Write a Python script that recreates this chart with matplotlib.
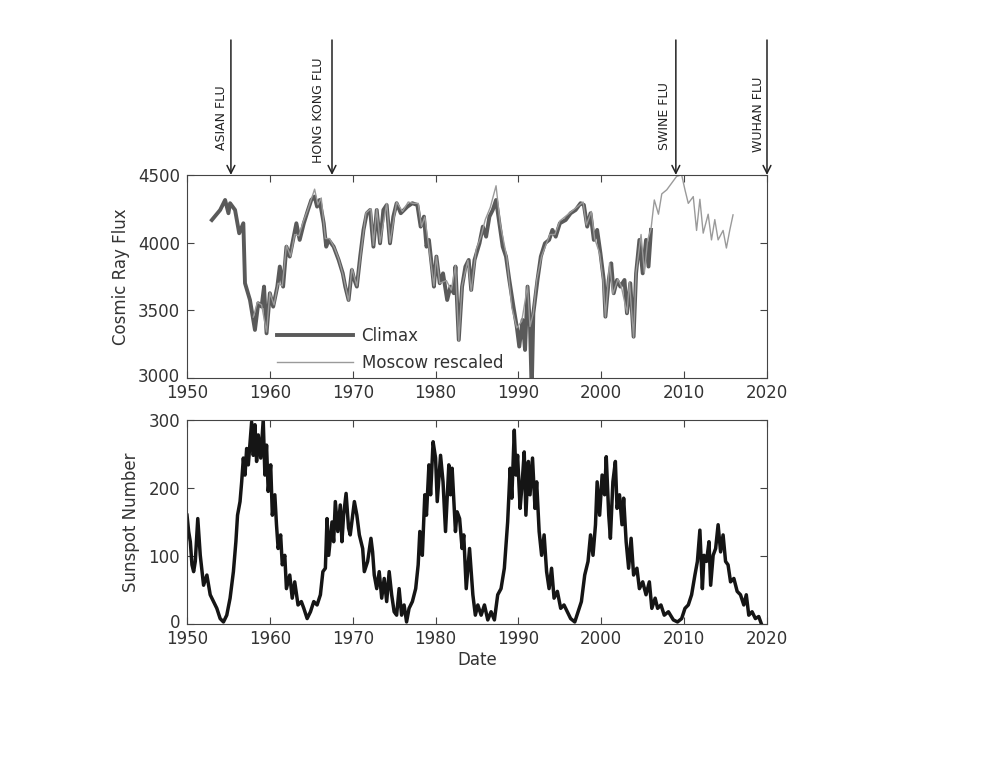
"""
Cosmic ray flux (Climax / Moscow) and sunspot number, with flu pandemics marked.
"""

import matplotlib
matplotlib.use("Agg")
import matplotlib.pyplot as plt
import matplotlib.transforms as mtransforms

matplotlib.rcParams.update({
    'font.family': 'DejaVu Sans',
    'font.size': 12,
    'xtick.direction': 'in',
    'ytick.direction': 'in',
    'xtick.top': True,
    'ytick.right': True,
    'xtick.major.size': 5,
    'ytick.major.size': 5,
    'xtick.major.pad': 4.5,
    'ytick.major.pad': 5,
    'axes.edgecolor': '#444444',
    'xtick.color': '#444444',
    'ytick.color': '#444444',
    'xtick.labelcolor': '#333333',
    'ytick.labelcolor': '#333333',
})

# --- data ------------------------------------------------------------------
climax_years = [
    1953.0, 1954.0, 1954.6, 1955.0, 1955.2, 1955.8, 1956.3, 1956.8, 1957.0, 1957.6,
    1958.0, 1958.2, 1958.6, 1959.0, 1959.3, 1959.6, 1960.0, 1960.4, 1960.9, 1961.2,
    1961.6, 1962.0, 1962.4, 1962.8, 1963.2, 1963.6, 1964.1, 1964.6, 1965.0, 1965.4,
    1965.7, 1966.0, 1966.5, 1966.8, 1967.1, 1967.7, 1968.3, 1968.8, 1969.1, 1969.5,
    1969.9, 1970.2, 1970.5, 1970.9, 1971.3, 1971.7, 1972.1, 1972.5, 1972.9, 1973.3,
    1973.7, 1974.1, 1974.5, 1974.9, 1975.3, 1975.8, 1976.6, 1977.2, 1977.8, 1978.2,
    1978.6, 1978.9, 1979.2, 1979.6, 1979.8, 1980.1, 1980.5, 1980.9, 1981.4, 1981.8,
    1982.2, 1982.4, 1982.8, 1983.2, 1983.6, 1984.0, 1984.3, 1984.7, 1985.3, 1985.7,
    1986.1, 1986.5, 1986.9, 1987.3, 1987.7, 1988.1, 1988.5, 1988.9, 1989.4, 1989.8,
    1990.1, 1990.5, 1990.8, 1991.1, 1991.4, 1991.6, 1991.8, 1992.3, 1992.7, 1993.2,
    1993.7, 1994.1, 1994.5, 1995.0, 1995.7, 1996.3, 1996.9, 1997.5, 1997.9, 1998.3,
    1998.7, 1999.1, 1999.5, 1999.9, 2000.3, 2000.5, 2000.9, 2001.2, 2001.5, 2001.9,
    2002.3, 2002.8, 2003.1, 2003.5, 2003.9, 2004.2, 2004.6, 2005.0, 2005.4, 2005.7,
    2006.0,
]
climax_flux = [
    4167, 4241, 4315, 4217, 4291, 4241, 4069, 4143, 3700, 3576,
    3429, 3355, 3552, 3527, 3675, 3330, 3626, 3527, 3675, 3823,
    3675, 3970, 3897, 4020, 4143, 4020, 4143, 4241, 4315, 4340,
    4266, 4315, 4143, 3970, 4020, 3970, 3872, 3773, 3675, 3576,
    3798, 3724, 3675, 3897, 4094, 4217, 4241, 3970, 4241, 3995,
    4241, 4278, 3995, 4192, 4291, 4217, 4266, 4291, 4278, 4118,
    4192, 3970, 4020, 3798, 3675, 3897, 3700, 3773, 3576, 3675,
    3626, 3823, 3281, 3675, 3823, 3872, 3650, 3872, 3995, 4118,
    4044, 4192, 4241, 4315, 4143, 3970, 3897, 3724, 3527, 3379,
    3232, 3429, 3207, 3675, 3379, 2900, 3478, 3724, 3897, 3995,
    4020, 4094, 4044, 4143, 4167, 4217, 4241, 4291, 4278, 4118,
    4217, 4020, 4094, 3921, 3724, 3453, 3724, 3847, 3626, 3724,
    3675, 3724, 3478, 3700, 3305, 3773, 4020, 3773, 4020, 3823,
    4094,
]

moscow_years = [
    1958.0, 1958.5, 1959.0, 1959.6, 1960.0, 1960.5, 1961.0, 1961.5, 1962.0, 1962.5,
    1963.0, 1963.5, 1964.0, 1964.5, 1965.0, 1965.4, 1965.8, 1966.2, 1966.7, 1967.2,
    1967.8, 1968.3, 1968.8, 1969.5, 1969.9, 1970.5, 1971.0, 1971.6, 1972.2, 1972.5,
    1972.9, 1973.3, 1974.1, 1974.5, 1975.3, 1976.0, 1976.7, 1977.3, 1977.9, 1978.3,
    1978.7, 1979.1, 1979.8, 1980.1, 1980.5, 1981.3, 1981.9, 1982.4, 1982.8, 1983.2,
    1983.9, 1984.3, 1984.9, 1985.5, 1986.0, 1986.6, 1987.3, 1987.8, 1988.6, 1989.2,
    1989.8, 1990.4, 1991.1, 1991.4, 1991.8, 1992.2, 1992.8, 1993.8, 1994.4, 1995.0,
    1996.2, 1997.0, 1997.8, 1998.2, 1998.8, 1999.2, 1999.8, 2000.2, 2000.5, 2001.0,
    2001.4, 2002.0, 2002.4, 2003.1, 2003.4, 2003.9, 2004.2, 2004.8, 2005.2, 2005.6,
    2006.0, 2006.4, 2006.9, 2007.3, 2007.9, 2008.5, 2009.1, 2009.7, 2010.1, 2010.5,
    2011.1, 2011.5, 2011.9, 2012.3, 2012.9, 2013.3, 2013.7, 2014.1, 2014.7, 2015.1,
    2015.5, 2015.9,
]
moscow_flux = [
    3450, 3560, 3540, 3340, 3630, 3540, 3700, 3680, 3980, 3900,
    4060, 4050, 4150, 4230, 4320, 4395, 4280, 4330, 4030, 4030,
    3960, 3880, 3770, 3570, 3810, 3680, 3930, 4220, 4250, 3980,
    4250, 4000, 4290, 4000, 4300, 4230, 4300, 4290, 4290, 4120,
    4190, 4010, 3680, 3900, 3700, 3720, 3650, 3830, 3270, 3680,
    3870, 3640, 3950, 4050, 4170, 4260, 4420, 4140, 3890, 3520,
    3370, 3420, 3680, 3380, 3480, 3720, 3900, 4060, 4060, 4160,
    4220, 4260, 4300, 4130, 4230, 4030, 3920, 3730, 3450, 3850,
    3620, 3730, 3680, 3480, 3710, 3300, 3780, 4060, 3780, 4020,
    4100, 4315, 4210, 4360, 4390, 4440, 4490, 4500, 4390, 4290,
    4340, 4090, 4320, 4070, 4210, 4020, 4170, 4020, 4090, 3960,
    4090, 4205,
]

sunspot_years = [
    1950.0, 1950.2, 1950.4, 1950.6, 1950.8, 1951.0, 1951.3, 1951.6, 1952.0, 1952.4,
    1952.8, 1953.2, 1953.6, 1954.0, 1954.4, 1954.8, 1955.2, 1955.6, 1955.9, 1956.1,
    1956.4, 1956.6, 1956.8, 1957.0, 1957.2, 1957.4, 1957.8, 1958.0, 1958.2, 1958.4,
    1958.6, 1958.9, 1959.2, 1959.4, 1959.6, 1959.8, 1960.1, 1960.3, 1960.6, 1960.8,
    1961.0, 1961.3, 1961.5, 1961.8, 1962.0, 1962.4, 1962.7, 1963.0, 1963.4, 1963.8,
    1964.1, 1964.5, 1964.9, 1965.3, 1965.7, 1966.1, 1966.4, 1966.7, 1966.9, 1967.1,
    1967.5, 1967.7, 1967.9, 1968.2, 1968.5, 1968.7, 1968.9, 1969.2, 1969.5, 1969.7,
    1970.2, 1970.5, 1970.8, 1971.2, 1971.4, 1971.8, 1972.2, 1972.4, 1972.6, 1972.9,
    1973.2, 1973.5, 1973.8, 1974.1, 1974.4, 1974.7, 1975.0, 1975.3, 1975.6, 1975.9,
    1976.2, 1976.5, 1976.8, 1977.2, 1977.6, 1977.9, 1978.1, 1978.4, 1978.7, 1978.9,
    1979.2, 1979.4, 1979.7, 1980.0, 1980.2, 1980.6, 1980.9, 1981.2, 1981.6, 1981.8,
    1982.0, 1982.4, 1982.6, 1982.9, 1983.2, 1983.4, 1983.7, 1984.1, 1984.5, 1984.8,
    1985.1, 1985.5, 1985.9, 1986.3, 1986.7, 1987.1, 1987.5, 1987.9, 1988.3, 1988.7,
    1989.0, 1989.2, 1989.5, 1989.7, 1989.9, 1990.2, 1990.4, 1990.7, 1990.9, 1991.2,
    1991.4, 1991.7, 1992.0, 1992.2, 1992.5, 1992.8, 1993.1, 1993.4, 1993.7, 1994.0,
    1994.3, 1994.7, 1995.1, 1995.5, 1995.9, 1996.3, 1996.8, 1997.2, 1997.6, 1998.0,
    1998.4, 1998.7, 1999.0, 1999.3, 1999.5, 1999.8, 2000.1, 2000.4, 2000.6, 2000.9,
    2001.1, 2001.4, 2001.7, 2001.9, 2002.2, 2002.5, 2002.7, 2003.0, 2003.3, 2003.6,
    2003.9, 2004.3, 2004.6, 2005.0, 2005.4, 2005.8, 2006.1, 2006.5, 2006.8, 2007.2,
    2007.6, 2008.1, 2008.7, 2009.2, 2009.7, 2010.1, 2010.5, 2010.9, 2011.3, 2011.6,
    2011.9, 2012.2, 2012.4, 2012.7, 2013.0, 2013.2, 2013.5, 2013.8, 2014.1, 2014.4,
    2014.7, 2015.0, 2015.3, 2015.6, 2016.0, 2016.4, 2016.8, 2017.2, 2017.5, 2017.8,
    2018.2, 2018.6, 2019.0, 2019.3,
]
sunspot_number = [
    160, 136, 121, 87, 77, 92, 155, 101, 57, 72,
    43, 33, 23, 8, 3, 13, 38, 77, 121, 160,
    180, 209, 244, 219, 258, 234, 297, 248, 293, 239,
    278, 244, 300, 219, 263, 195, 234, 160, 190, 146,
    111, 131, 87, 101, 52, 72, 38, 62, 28, 33,
    23, 8, 18, 33, 28, 43, 77, 82, 155, 101,
    150, 121, 180, 136, 175, 121, 160, 192, 141, 131,
    180, 160, 131, 111, 77, 92, 126, 106, 72, 52,
    77, 38, 67, 33, 77, 43, 18, 13, 52, 13,
    28, 3, 23, 33, 52, 87, 136, 101, 190, 160,
    234, 190, 268, 244, 180, 248, 209, 136, 234, 190,
    229, 136, 165, 155, 111, 131, 52, 111, 43, 13,
    28, 13, 28, 6, 18, 6, 43, 52, 82, 150,
    229, 185, 285, 219, 248, 170, 199, 253, 160, 239,
    190, 244, 170, 209, 136, 101, 131, 77, 52, 82,
    38, 48, 23, 28, 18, 8, 3, 18, 33, 72,
    92, 131, 101, 146, 209, 160, 219, 190, 246, 160,
    126, 209, 239, 170, 190, 146, 185, 121, 82, 126,
    72, 82, 52, 62, 43, 62, 23, 38, 23, 28,
    13, 18, 6, 3, 8, 23, 28, 43, 72, 92,
    138, 52, 101, 92, 121, 57, 101, 111, 146, 106,
    131, 92, 87, 62, 67, 48, 43, 28, 43, 13,
    18, 8, 11, 1,
]

flu_years = [1955.3, 1967.5, 2009.0, 2020.0]
flu_labels = ["ASIAN FLU", "HONG KONG FLU", "SWINE FLU", "WUHAN FLU"]

YEAR_TICKS = [1950, 1960, 1970, 1980, 1990, 2000, 2010, 2020]

# --- figure -----------------------------------------------------------------
fig = plt.figure(figsize=(10, 7.72), dpi=100)
ax_cr = fig.add_axes([0.187, 0.5104, 0.580, 0.2630])
ax_ss = fig.add_axes([0.187, 0.1917, 0.580, 0.2643])

# Cosmic ray panel
ax_cr.plot(climax_years, climax_flux, color="#5a5a5a", lw=2.8, label="Climax")
ax_cr.plot(moscow_years, moscow_flux, color="#9a9a9a", lw=1.0, label="Moscow rescaled")
ax_cr.set_xlim(1950, 2020)
ax_cr.set_ylim(3000, 4500)
ax_cr.set_xticks(YEAR_TICKS)
ax_cr.set_yticks([3000, 3500, 4000, 4500])
ax_cr.set_ylabel("Cosmic Ray Flux", color="#333333", labelpad=6)
ax_cr.legend(loc="lower left", bbox_to_anchor=(0.14, -0.01), frameon=False,
             handlelength=4.6, handletextpad=0.5, labelspacing=0.55,
             borderpad=0.0, fontsize=12, labelcolor="#333333")

# Sunspot panel
ax_ss.plot(sunspot_years, sunspot_number, color="#151515", lw=2.5)
ax_ss.set_xlim(1950, 2020)
ax_ss.set_ylim(0, 300)
ax_ss.set_xticks(YEAR_TICKS)
ax_ss.set_yticks([0, 100, 200, 300])
ax_ss.set_ylabel("Sunspot Number", color="#333333", labelpad=6)
ax_ss.set_xlabel("Date", color="#333333", labelpad=2)

# lift the bottom-most y tick label a little so it clears the corner year label
lift = mtransforms.ScaledTranslation(0, 3 / 100, fig.dpi_scale_trans)
for ax in (ax_cr, ax_ss):
    lbl = ax.get_yticklabels()[0]
    lbl.set_transform(lbl.get_transform() + lift)

# Hand-drawn pandemic arrows above the top panel
label_offsets = [(-9, 25), (-14, 12), (-11, 25), (-9, 23)]
for yr, lab, (dx, dy) in zip(flu_years, flu_labels, label_offsets):
    ax_cr.annotate("", xy=(yr, 4500), xycoords="data",
                   xytext=(yr, 1 - 40 / 772), textcoords=("data", "figure fraction"),
                   arrowprops=dict(arrowstyle="->", lw=1.1, color="#222222",
                                   shrinkA=0, shrinkB=0, mutation_scale=14),
                   annotation_clip=False)
    ax_cr.annotate(lab, xy=(yr, 4500), xycoords="data",
                   xytext=(dx, dy), textcoords="offset pixels",
                   rotation=90, ha="center", va="bottom", fontsize=9,
                   color="#222222", annotation_clip=False)

fig.savefig("out.png", dpi=100)
